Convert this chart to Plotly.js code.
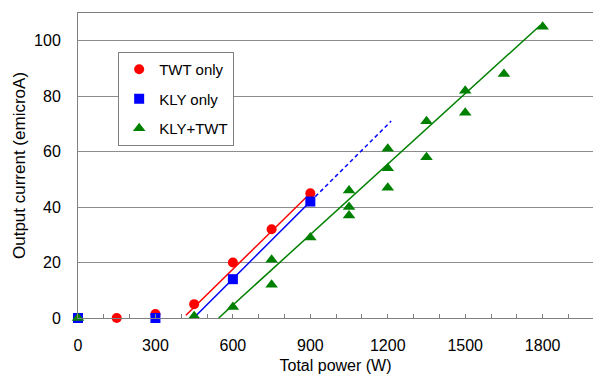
<!DOCTYPE html>
<html>
<head>
<meta charset="utf-8">
<script src="https://cdn.plot.ly/plotly-3.0.1.min.js"></script>
<style>html,body{margin:0;padding:0;background:#fff;}#chart{width:593px;height:376px;}</style>
</head>
<body>
<div id="chart"></div>
<script>
// Measured data
const twtPower = [150, 300, 450, 600, 750, 900];
const twtCurrent = [0, 1.4, 5, 20, 32, 45];

const klyPower = [0, 300, 600, 900];
const klyCurrent = [0, 0, 14, 42];

const comboPower = [0, 450, 600, 750, 750, 900, 1050, 1050, 1050, 1200, 1200, 1200, 1350, 1350, 1500, 1500, 1650, 1800];
const comboCurrent = [0, 0.6, 4, 21, 12, 29, 46, 40, 37, 61, 54, 47, 71, 58, 82, 74, 88, 105];

// Fitted trend lines (end points)
const twtFitX = [418, 900];
const twtFitY = [1, 45];
const klyFitX = [448, 900];
const klyFitY = [0, 42];
const klyExtX = [900, 1213];
const klyExtY = [42, 71];
const comboFitX = [545, 1790];
const comboFitY = [0, 105.5];

const xTickVals = [0, 300, 600, 900, 1200, 1500, 1800];
const yTickVals = [0, 20, 40, 60, 80, 100];

const RED = '#ff0000', BLUE = '#0000ff', GREEN = '#008000';
const FONT = 'Liberation Sans, Arial, sans-serif';

const traces = [
  {x: twtFitX, y: twtFitY, mode: 'lines', line: {color: RED, width: 1.5}, showlegend: false, hoverinfo: 'skip'},
  {x: klyFitX, y: klyFitY, mode: 'lines', line: {color: BLUE, width: 1.5}, showlegend: false, hoverinfo: 'skip'},
  {x: klyExtX, y: klyExtY, mode: 'lines', line: {color: BLUE, width: 1.5, dash: '4px,3px'}, showlegend: false, hoverinfo: 'skip'},
  {x: comboFitX, y: comboFitY, mode: 'lines', line: {color: GREEN, width: 1.5}, showlegend: false, hoverinfo: 'skip'},
  {x: twtPower, y: twtCurrent, mode: 'markers', name: 'TWT only', legendgroup: 'a', cliponaxis: false,
   marker: {symbol: 'circle', size: 10, color: RED}},
  {x: klyPower, y: klyCurrent, mode: 'markers', name: 'KLY only', legendgroup: 'b', cliponaxis: false,
   marker: {symbol: 'square', size: 10, color: BLUE}},
  {x: comboPower, y: comboCurrent, mode: 'markers', name: 'KLY+TWT', legendgroup: 'c', cliponaxis: false,
   marker: {symbol: 'triangle-up', size: 11, color: GREEN}}
];

const layout = {
  width: 593, height: 376,
  margin: {l: 78, r: 0, t: 13, b: 58},
  paper_bgcolor: '#ffffff', plot_bgcolor: '#ffffff',
  font: {family: FONT, size: 16, color: '#000'},
  showlegend: true,
  legend: {
    x: 0.078, y: 0.872, xanchor: 'left', yanchor: 'top',
    bgcolor: '#ffffff', bordercolor: '#808080', borderwidth: 1,
    font: {family: FONT, size: 15, color: '#000'},
    traceorder: 'grouped', tracegroupgap: 7
  },
  xaxis: {
    range: [0, 1995], tickmode: 'array', tickvals: xTickVals,
    ticks: 'inside', ticklen: 4, tickcolor: '#808080', tickwidth: 1,
    minor: {dtick: 100, tick0: 0, ticks: 'inside', ticklen: 4, tickcolor: '#808080', showgrid: false},
    showgrid: false, zeroline: false,
    showline: true, linecolor: '#808080', linewidth: 1, mirror: true,
    tickfont: {family: FONT, size: 16},
    ticklabelstandoff: 13,
    title: {text: 'Total power (W)', font: {family: FONT, size: 16}, standoff: 6}
  },
  yaxis: {
    range: [0, 110], tickmode: 'array', tickvals: yTickVals,
    ticks: '', showgrid: true, gridcolor: '#8c8c8c', gridwidth: 1,
    zeroline: false, showline: true, linecolor: '#808080', linewidth: 1,
    tickfont: {family: FONT, size: 16},
    ticklabelstandoff: 13,
    title: {text: 'Output current (emicroA)', font: {family: FONT, size: 17}, standoff: 4}
  }
};

Plotly.newPlot('chart', traces, layout, {displayModeBar: false, staticPlot: true});
</script>
</body>
</html>
